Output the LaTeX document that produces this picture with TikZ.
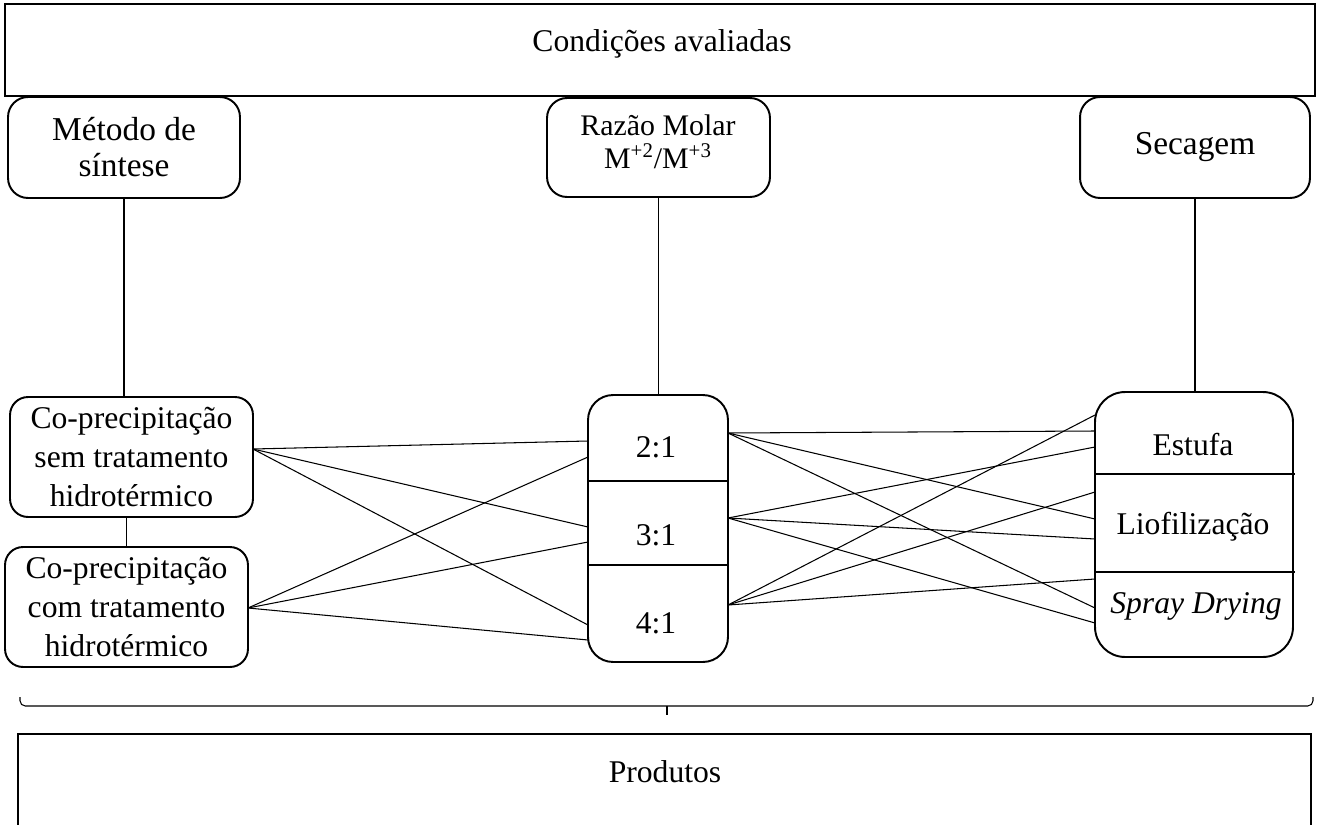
\documentclass[tikz,border=0pt]{standalone}
\usepackage{fontspec}
\setmainfont{Liberation Serif}
\tikzset{
  quadro/.style={draw, line width=0.8pt, inner sep=0pt},
  caixa/.style={draw, rounded corners=0.4cm, line width=1.1pt, align=center, inner sep=0pt},
  liga/.style={line width=0.6pt},
}
\begin{document}
\begin{tikzpicture}[x=0.02cm, y=-0.02cm, font=\fontsize{18}{20.5}\selectfont]
      \useasboundingbox (0,0) rectangle (1319,825);
      \clip (0,0) rectangle (1319,825);
      % cabecalho
      \node[quadro, minimum width=26.2cm, minimum height=1.84cm] (cond) at (660,50) {};
      \node (condtxt) at (662,44) {Condições avaliadas};
      \node[caixa, minimum width=4.64cm, minimum height=2.02cm,
        font=\fontsize{19}{20.5}\selectfont] (metodo) at (124,147.5) {Método de\\síntese};
      \node[caixa, minimum width=4.46cm, minimum height=1.98cm] (razao) at (658.5,147.5) {};
      \node[align=center, font=\fontsize{17}{18.5}\selectfont] (razaotxt) at (658,142) {Razão Molar\\M\textsuperscript{+2}/M\textsuperscript{+3}};
      \node[caixa, minimum width=4.6cm, minimum height=2.02cm,
        font=\fontsize{19}{20.5}\selectfont] (secagem) at (1195,147.5) {Secagem};
      % metodos
      \node[caixa, rounded corners=0.36cm, minimum width=4.86cm, minimum height=2.4cm,
        font=\fontsize{18}{22}\selectfont] (sem) at (131.5,457) {Co-precipitação\\sem tratamento\\hidrotérmico};
      \node[caixa, rounded corners=0.36cm, minimum width=4.86cm, minimum height=2.4cm,
        font=\fontsize{18}{22}\selectfont] (com) at (126.5,607) {Co-precipitação\\com tratamento\\hidrotérmico};
      % razoes
      \node[caixa, rounded corners=0.5cm, minimum width=2.8cm, minimum height=5.34cm] (ratio) at (658,528.5) {};
      \node (r21) at (656,447) {2:1};
      \node (r31) at (656,535.5) {3:1};
      \node (r41) at (656,623) {4:1};
      \draw[liga] (588,481) -- (728,481);
      \draw[liga] (588,565) -- (728,565);
      % secagem
      \node[caixa, rounded corners=0.6cm, minimum width=3.96cm, minimum height=5.3cm] (seca) at (1194,524.5) {};
      \node (estufa) at (1193,445) {Estufa};
      \node (liof) at (1193,527) {Liofilização};
      \node (spray) at (1196,606) {\itshape Spray Drying};
      \draw[liga] (1095,474) -- (1295,474);
      \draw[liga] (1095,572) -- (1295,572);
      % pontos de ligacao
      \coordinate (semE) at (253,449);
      \coordinate (comE) at (248,608);
      \coordinate (a21) at (588,441); \coordinate (b21) at (588,457);
      \coordinate (a31) at (588,527); \coordinate (b31) at (588,542);
      \coordinate (a41) at (588,625); \coordinate (b41) at (588,640);
      \coordinate (c21) at (728,433); \coordinate (c31) at (728,518); \coordinate (c41) at (728,605);
      \coordinate (e1) at (1095,415); \coordinate (e2) at (1095,431); \coordinate (e3) at (1095,447);
      \coordinate (l1) at (1095,492); \coordinate (l2) at (1095,519); \coordinate (l3) at (1095,539);
      \coordinate (s1) at (1095,579); \coordinate (s2) at (1095,608); \coordinate (s3) at (1095,623);
      \begin{scope}[liga]
        \draw (metodo.south) -- (metodo.south |- sem.north);
        \draw (razao.south) -- (razao.south |- ratio.north);
        \draw (secagem.south) -- (secagem.south |- seca.north);
        \draw (com.north) -- (com.north |- sem.south);
        \draw (semE) to (a21);
        \draw (semE) to (a31);
        \draw (semE) to (a41);
        \draw (comE) to (b21);
        \draw (comE) to (b31);
        \draw (comE) to (b41);
        \draw (c21) to (e2);
        \draw (c21) to (l2);
        \draw (c21) to (s2);
        \draw (c31) to (e3);
        \draw (c31) to (l3);
        \draw (c31) to (s3);
        \draw (c41) to (e1);
        \draw (c41) to (l1);
        \draw (c41) to (s1);
      \end{scope}
      % chave e produtos
      \draw[liga, rounded corners=3pt] (20,697) -- (20,706) -- (1313,706) -- (1313,697);
      \draw[liga] (667,706) -- (667,715);
      \node[quadro, minimum width=25.86cm, minimum height=2.64cm] (prod) at (664.5,800) {};
      \node (prodtxt) at (665,772) {Produtos};
    \end{tikzpicture}
\end{document}
